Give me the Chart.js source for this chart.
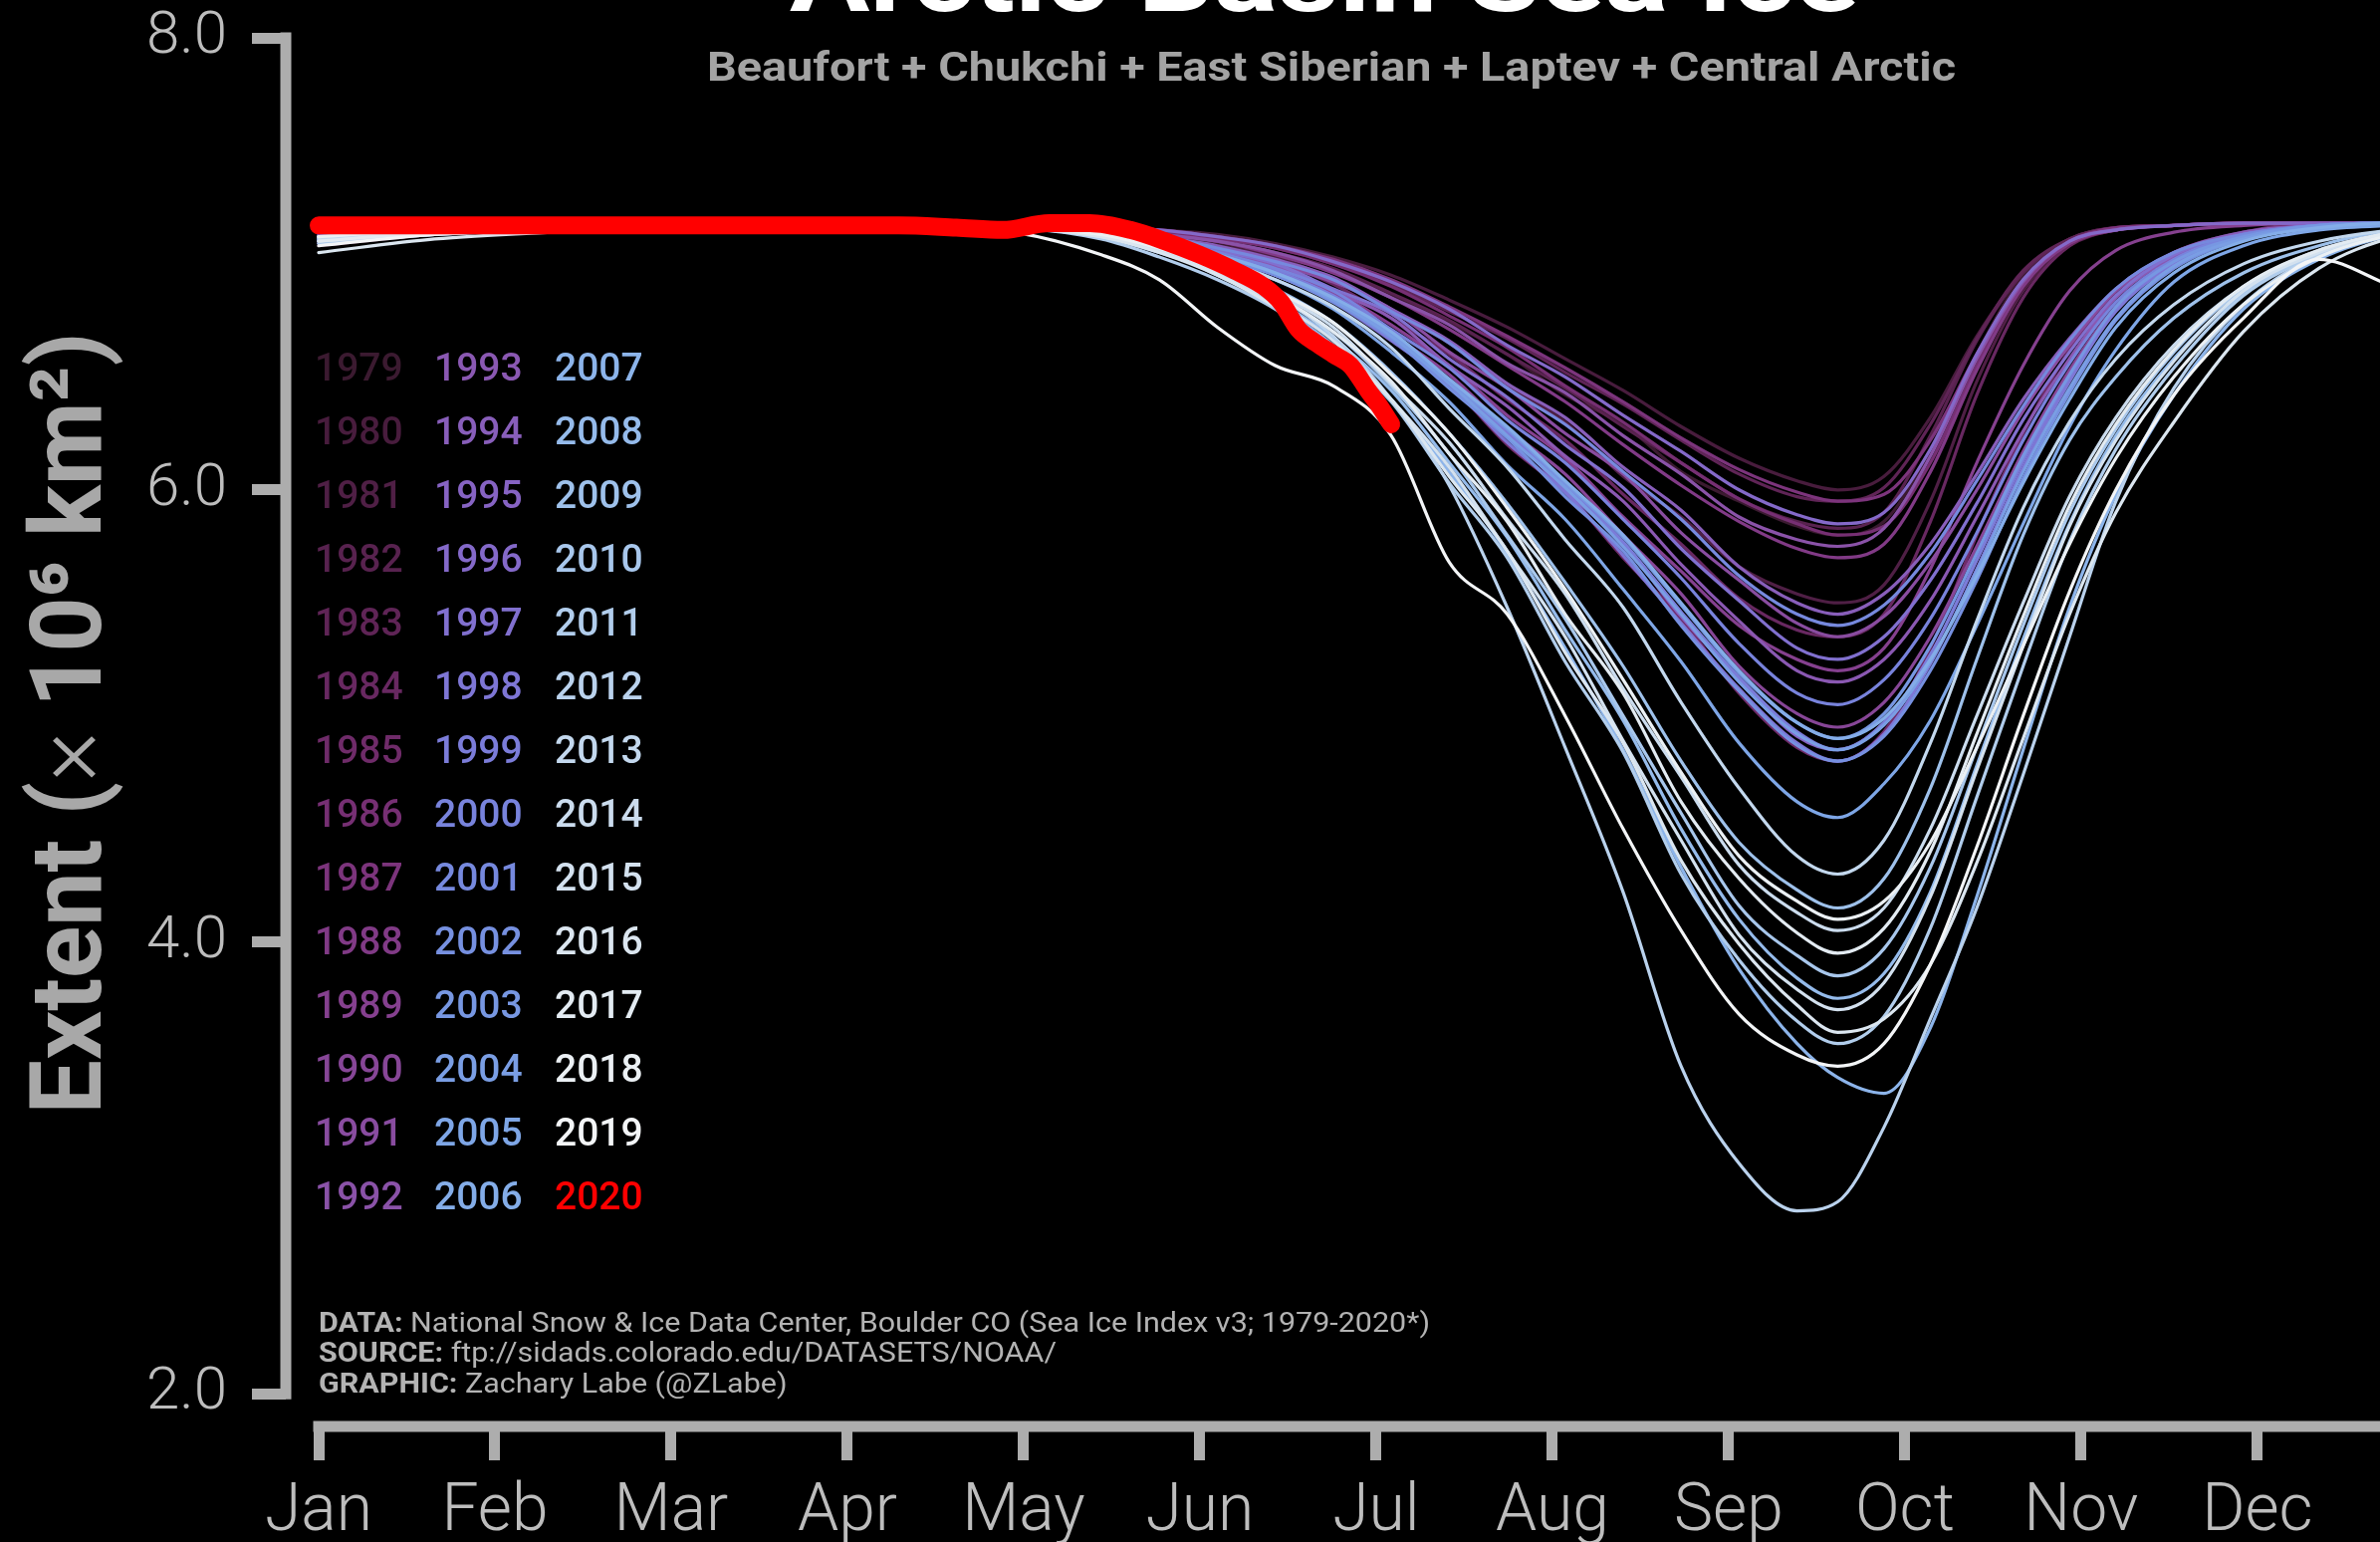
<!DOCTYPE html>
<html>
<head>
<meta charset="utf-8">
<title>Arctic Basin Sea Ice</title>
<script src="https://cdn.jsdelivr.net/npm/chart.js@4.4.1/dist/chart.umd.min.js"></script>
<style>
  html, body { margin: 0; padding: 0; background: #000; overflow: hidden; }
  canvas { display: block; }
</style>
</head>
<body>
<canvas id="chart" width="2390" height="1548"></canvas>
<script>
// Day of year for each sample (shared by the 1979-2019 series)
const DAYS = [0,20,40,60,80,100,120,135,145,155,165,175,185,195,205,215,225,235,245,255,262,270,278,286,294,302,310,320,332,345,358,365];

// Arctic Basin extent, million km^2
const y1979 = [7.10,7.14,7.16,7.17,7.17,7.17,7.16, 7.15,7.13,7.09,7.05,6.97,6.86,6.74,6.60,6.42,6.29,6.08,5.95,5.84,5.80,5.86,6.18,6.60,6.95,7.10,7.15,7.17,7.18,7.18,7.18,7.18];
const y1980 = [7.08,7.13,7.15,7.16,7.17,7.17,7.17, 7.16,7.15,7.13,7.09,7.03,6.95,6.84,6.72,6.58,6.44,6.28,6.14,6.04,6.00,6.06,6.32,6.68,6.96,7.11,7.16,7.17,7.18,7.18,7.18,7.18];
const y1981 = [7.12,7.15,7.16,7.17,7.17,7.16,7.16, 7.15,7.12,7.08,7.03,6.93,6.79,6.65,6.46,6.30,6.06,5.88,5.66,5.54,5.50,5.58,5.95,6.48,6.88,7.08,7.15,7.17,7.18,7.18,7.18,7.18];
const y1982 = [7.11,7.15,7.16,7.17,7.17,7.17,7.17, 7.16,7.14,7.10,7.05,6.98,6.87,6.75,6.60,6.45,6.28,6.12,5.96,5.86,5.83,5.90,6.24,6.66,6.96,7.11,7.16,7.17,7.18,7.18,7.18,7.18];
const y1983 = [7.09,7.14,7.16,7.17,7.17,7.17,7.17, 7.16,7.14,7.12,7.07,7.00,6.91,6.79,6.67,6.52,6.38,6.22,6.07,5.97,5.95,6.01,6.29,6.67,6.97,7.11,7.16,7.17,7.18,7.18,7.18,7.18];
const y1984 = [7.13,7.15,7.16,7.17,7.17,7.17,7.16, 7.14,7.11,7.07,7.01,6.91,6.76,6.60,6.40,6.22,5.98,5.76,5.52,5.38,5.35,5.45,5.86,6.42,6.85,7.08,7.15,7.17,7.18,7.18,7.18,7.18];
const y1985 = [7.10,7.14,7.16,7.17,7.17,7.17,7.16, 7.14,7.10,7.04,6.96,6.85,6.68,6.47,6.20,5.99,5.70,5.43,5.10,4.86,4.80,4.93,5.30,5.80,6.25,6.62,6.88,7.05,7.14,7.18,7.18,7.18];
const y1986 = [7.12,7.15,7.16,7.17,7.17,7.17,7.17, 7.16,7.14,7.11,7.07,7.00,6.90,6.77,6.63,6.46,6.30,6.12,5.96,5.85,5.80,5.84,6.12,6.55,6.92,7.09,7.15,7.17,7.18,7.18,7.18,7.18];
const y1987 = [7.10,7.14,7.16,7.17,7.17,7.17,7.17, 7.16,7.15,7.12,7.08,7.02,6.93,6.81,6.68,6.54,6.39,6.23,6.09,5.99,5.95,5.98,6.22,6.60,6.93,7.10,7.16,7.17,7.18,7.18,7.18,7.18];
const y1988 = [7.11,7.15,7.16,7.17,7.17,7.17,7.16, 7.15,7.13,7.10,7.04,6.96,6.85,6.71,6.55,6.39,6.20,6.02,5.86,5.74,5.70,5.76,6.08,6.53,6.90,7.09,7.15,7.17,7.18,7.18,7.18,7.18];
const y1989 = [7.09,7.14,7.16,7.17,7.17,7.16,7.16, 7.14,7.11,7.06,6.99,6.88,6.73,6.55,6.33,6.14,5.88,5.64,5.40,5.25,5.20,5.30,5.65,6.12,6.55,6.88,7.06,7.14,7.17,7.18,7.18,7.18];
const y1990 = [7.11,7.15,7.16,7.17,7.17,7.17,7.16, 7.14,7.10,7.05,6.97,6.87,6.69,6.51,6.27,6.07,5.80,5.54,5.22,5.01,4.95,5.06,5.35,5.75,6.17,6.53,6.81,7.01,7.13,7.17,7.18,7.18];
const y1991 = [7.12,7.15,7.16,7.17,7.17,7.17,7.17, 7.15,7.12,7.07,7.00,6.92,6.80,6.61,6.45,6.25,6.07,5.81,5.60,5.41,5.35,5.44,5.68,6.00,6.35,6.64,6.88,7.04,7.13,7.17,7.18,7.18];
const y1992 = [7.10,7.14,7.16,7.17,7.17,7.17,7.17, 7.15,7.13,7.10,7.05,6.97,6.85,6.73,6.56,6.43,6.24,6.07,5.88,5.78,5.75,5.83,6.15,6.58,6.92,7.10,7.15,7.17,7.18,7.18,7.18,7.18];
const y1993 = [7.11,7.15,7.16,7.17,7.17,7.17,7.16, 7.14,7.11,7.06,6.99,6.88,6.76,6.55,6.37,6.15,5.95,5.67,5.42,5.20,5.15,5.25,5.51,5.88,6.26,6.58,6.85,7.03,7.13,7.17,7.18,7.18];
const y1994 = [7.12,7.15,7.16,7.17,7.17,7.17,7.17, 7.15,7.12,7.08,7.02,6.94,6.80,6.66,6.47,6.32,6.10,5.91,5.66,5.50,5.45,5.54,5.76,6.07,6.40,6.67,6.89,7.05,7.14,7.17,7.18,7.18];
const y1995 = [7.10,7.14,7.16,7.17,7.17,7.17,7.16, 7.14,7.10,7.04,6.95,6.84,6.69,6.46,6.25,6.00,5.76,5.44,5.16,4.91,4.85,4.97,5.27,5.69,6.13,6.50,6.80,7.01,7.12,7.17,7.18,7.18];
const y1996 = [7.13,7.16,7.16,7.17,7.17,7.17,7.17, 7.16,7.15,7.12,7.08,7.01,6.92,6.80,6.64,6.50,6.33,6.17,6.00,5.89,5.85,5.90,6.18,6.60,6.93,7.10,7.15,7.17,7.18,7.18,7.18,7.18];
const y1997 = [7.11,7.15,7.16,7.17,7.17,7.17,7.17, 7.15,7.11,7.06,7.00,6.89,6.78,6.58,6.41,6.20,6.01,5.74,5.51,5.30,5.25,5.35,5.60,5.94,6.31,6.61,6.86,7.04,7.13,7.17,7.18,7.18];
const y1998 = [7.12,7.15,7.16,7.17,7.17,7.16,7.16, 7.13,7.09,7.02,6.95,6.83,6.66,6.47,6.21,5.99,5.71,5.41,5.12,4.88,4.80,4.92,5.23,5.65,6.10,6.48,6.79,7.00,7.12,7.17,7.18,7.18];
const y1999 = [7.11,7.15,7.16,7.17,7.17,7.17,7.16, 7.14,7.11,7.05,6.97,6.86,6.70,6.48,6.26,6.02,5.77,5.46,5.17,4.93,4.85,4.97,5.27,5.69,6.13,6.50,6.80,7.01,7.12,7.17,7.18,7.18];
const y2000 = [7.12,7.15,7.16,7.17,7.17,7.17,7.16, 7.14,7.11,7.05,6.98,6.88,6.71,6.54,6.31,6.12,5.87,5.61,5.32,5.10,5.05,5.16,5.43,5.81,6.22,6.56,6.83,7.02,7.13,7.17,7.18,7.18];
const y2001 = [7.10,7.14,7.16,7.17,7.17,7.17,7.17, 7.15,7.12,7.07,7.01,6.93,6.79,6.65,6.45,6.29,6.08,5.87,5.62,5.45,5.40,5.49,5.72,6.04,6.37,6.66,6.89,7.05,7.13,7.17,7.18,7.18];
const y2002 = [7.11,7.15,7.16,7.17,7.17,7.17,7.16, 7.13,7.09,7.03,6.95,6.83,6.67,6.45,6.23,5.97,5.73,5.40,5.11,4.87,4.80,4.91,5.20,5.60,6.05,6.43,6.75,6.98,7.11,7.16,7.18,7.18];
const y2003 = [7.12,7.15,7.16,7.17,7.17,7.17,7.16, 7.14,7.10,7.04,6.96,6.85,6.69,6.48,6.27,6.03,5.79,5.49,5.19,4.97,4.90,5.01,5.31,5.72,6.15,6.51,6.81,7.01,7.12,7.17,7.18,7.18];
const y2004 = [7.11,7.14,7.16,7.17,7.17,7.17,7.16, 7.14,7.10,7.04,6.96,6.84,6.68,6.47,6.24,6.01,5.75,5.45,5.15,4.92,4.85,4.96,5.24,5.64,6.08,6.45,6.76,6.99,7.11,7.16,7.18,7.18];
const y2005 = [7.10,7.14,7.16,7.17,7.17,7.17,7.16, 7.14,7.09,7.02,6.93,6.80,6.61,6.39,6.11,5.87,5.56,5.24,4.88,4.62,4.55,4.70,4.98,5.40,5.85,6.28,6.62,6.92,7.08,7.15,7.17,7.18];
const y2006 = [7.12,7.15,7.16,7.17,7.17,7.17,7.16, 7.14,7.10,7.04,6.96,6.85,6.70,6.49,6.28,6.04,5.80,5.50,5.20,4.97,4.90,4.99,5.25,5.62,6.03,6.40,6.72,6.96,7.10,7.16,7.18,7.18];
const y2007 = [7.09,7.13,7.15,7.16,7.17,7.17,7.16, 7.13,7.06,6.95,6.82,6.64,6.40,6.08,5.72,5.30,4.85,4.33,3.88,3.55,3.40,3.33,3.62,4.20,4.85,5.48,5.98,6.42,6.80,7.02,7.13,7.16];
const y2008 = [7.11,7.14,7.16,7.17,7.17,7.17,7.16, 7.12,7.05,6.96,6.84,6.67,6.44,6.12,5.79,5.38,4.98,4.50,4.10,3.84,3.75,3.86,4.22,4.78,5.34,5.85,6.24,6.58,6.87,7.05,7.14,7.16];
const y2009 = [7.10,7.14,7.16,7.17,7.17,7.17,7.16, 7.14,7.08,7.00,6.89,6.74,6.52,6.25,5.94,5.59,5.22,4.80,4.44,4.23,4.15,4.28,4.68,5.25,5.80,6.22,6.50,6.76,6.96,7.08,7.15,7.16];
const y2010 = [7.12,7.15,7.16,7.17,7.17,7.17,7.16, 7.13,7.07,6.98,6.86,6.70,6.46,6.16,5.80,5.43,5.00,4.57,4.16,3.94,3.85,3.97,4.33,4.86,5.40,5.90,6.27,6.61,6.89,7.05,7.14,7.16];
const y2011 = [7.09,7.13,7.15,7.16,7.17,7.17,7.16, 7.11,7.03,6.93,6.80,6.62,6.39,6.03,5.70,5.24,4.84,4.30,3.92,3.65,3.55,3.67,4.06,4.64,5.22,5.77,6.18,6.54,6.86,7.04,7.14,7.16];
const y2012 = [7.12,7.15,7.16,7.17,7.17,7.17,7.16, 7.13,7.07,6.97,6.86,6.68,6.40,6.02,5.48,4.86,4.22,3.45,3.02,2.81,2.85,3.18,3.66,4.15,4.74,5.35,5.95,6.45,6.82,7.04,7.14,7.16];
const y2013 = [7.11,7.14,7.16,7.17,7.17,7.17,7.16, 7.14,7.09,7.02,6.93,6.81,6.63,6.36,6.10,5.78,5.48,5.06,4.68,4.38,4.30,4.45,4.88,5.42,5.92,6.30,6.58,6.82,7.00,7.10,7.15,7.16];
const y2014 = [7.12,7.15,7.16,7.17,7.17,7.17,7.16, 7.13,7.07,6.98,6.87,6.72,6.47,6.21,5.87,5.54,5.12,4.73,4.34,4.13,4.05,4.15,4.50,5.00,5.50,5.97,6.32,6.64,6.90,7.06,7.14,7.16];
const y2015 = [7.10,7.14,7.16,7.17,7.17,7.17,7.16, 7.12,7.06,6.96,6.83,6.66,6.40,6.10,5.73,5.35,4.89,4.45,4.03,3.79,3.70,3.82,4.20,4.76,5.31,5.84,6.22,6.57,6.88,7.05,7.14,7.16];
const y2016 = [7.05,7.11,7.14,7.16,7.17,7.17,7.16, 7.12,7.05,6.95,6.81,6.63,6.40,6.06,5.73,5.28,4.88,4.36,3.99,3.72,3.60,3.66,3.90,4.35,4.90,5.45,5.90,6.30,6.70,6.98,7.12,7.15];
const y2017 = [7.10,7.14,7.16,7.17,7.17,7.17,7.16, 7.13,7.07,6.97,6.86,6.70,6.48,6.16,5.86,5.45,5.10,4.62,4.28,4.04,3.95,4.06,4.40,4.92,5.44,5.93,6.29,6.62,6.90,7.06,7.14,7.16];
const y2018 = [7.12,7.15,7.16,7.17,7.17,7.17,7.16, 7.13,7.07,6.99,6.88,6.74,6.51,6.25,5.92,5.56,5.16,4.75,4.38,4.18,4.10,4.18,4.44,4.86,5.31,5.76,6.14,6.50,6.82,7.03,7.13,7.16];
const y2019 = [7.08,7.13,7.15,7.16,7.17,7.17,7.14, 7.04,6.93,6.72,6.55,6.46,6.24,5.68,5.45,5.00,4.50,4.05,3.68,3.50,3.45,3.55,3.90,4.42,5.00,5.55,6.00,6.42,6.76,7.02,6.90,6.86];

// 2020 runs only to early July
const DAYS_2020 = [0,20,40,60,80,100,110,118,126,133,140,146,152,158,163,166,169,172,175,178,181,183,185];
const y2020 = [7.17,7.17,7.17,7.17,7.17,7.17,7.16,7.15,7.18,7.18,7.15,7.10,7.04,6.97,6.90,6.83,6.71,6.65,6.60,6.55,6.44,6.37,6.29];

const YEARS = [1979,1980,1981,1982,1983,1984,1985,1986,1987,1988,1989,1990,1991,1992,1993,1994,1995,1996,1997,1998,1999,2000,2001,2002,2003,2004,2005,2006,2007,2008,2009,2010,2011,2012,2013,2014,2015,2016,2017,2018,2019,2020];
const SERIES = [y1979,y1980,y1981,y1982,y1983,y1984,y1985,y1986,y1987,y1988,y1989,y1990,y1991,y1992,y1993,y1994,y1995,y1996,y1997,y1998,y1999,y2000,y2001,y2002,y2003,y2004,y2005,y2006,y2007,y2008,y2009,y2010,y2011,y2012,y2013,y2014,y2015,y2016,y2017,y2018,y2019,y2020];
const COLORS = ['#3b1a30','#481c3d','#4f1f45','#58224f','#5f2456','#682861','#6f2b69','#762f73','#7c347c','#813a86','#85408f','#874697','#894ca0','#8a52a8',
                '#8a58b2','#885eba','#8663c3','#8469c9','#8170cf','#7e76d5','#7b7cd9','#7883dc','#7689de','#7690e0','#7797e2','#7a9ee4','#7ea6e6','#84ade8',
                '#8cb4ea','#95bbeb','#9ec1eb','#a8c7ec','#b1cdec','#bad2ed','#c3d8ee','#cbdcee','#d3e1ef','#dbe6f0','#e3ebf2','#ebf0f4','#f3f5f7','#ff0000'];

const MONTHS = ['Jan','Feb','Mar','Apr','May','Jun','Jul','Aug','Sep','Oct','Nov','Dec'];
const MONTH_TICKS = [0,30.4,60.8,91.2,121.6,152.0,182.4,212.8,243.2,273.6,304.0,334.4];
const EXTENT_TICKS = [2,4,6,8];

const TITLE = 'Arctic Basin Sea Ice';
const SUBTITLE = 'Beaufort + Chukchi + East Siberian + Laptev + Central Arctic';
const CREDITS = [
  ['DATA:', 'National Snow & Ice Data Center, Boulder CO (Sea Ice Index v3; 1979-2020*)'],
  ['SOURCE:', 'ftp://sidads.colorado.edu/DATASETS/NOAA/'],
  ['GRAPHIC:', 'Zachary Labe (@ZLabe)']
];

const SPINE = '#adadad';
const TICK_TEXT = '#bdbdbd';
const LABEL_GREY = '#a8a8a8';

const datasets = YEARS.map((yr, i) => {
  const days = yr === 2020 ? DAYS_2020 : DAYS;
  return {
    label: String(yr),
    data: SERIES[i].map((v, k) => ({ x: days[k], y: v })),
    borderColor: COLORS[i],
    borderWidth: yr === 2020 ? 18 : 3.2,
    order: 2020 - yr,
    fill: false
  };
});

// Draws a run of differently styled pieces, stretched horizontally to a given width.
// align: 'left' starts at x, 'center' centres on x.
function drawFitted(ctx, parts, x, y, width, align) {
  let total = 0;
  const widths = parts.map(p => { ctx.font = p.font; const w = ctx.measureText(p.text).width; total += w; return w; });
  const s = width / total;
  ctx.save();
  ctx.translate(x, y);
  ctx.scale(s, 1);
  let cx = align === 'center' ? -total / 2 : 0;
  ctx.textAlign = 'left';
  parts.forEach((p, i) => { ctx.font = p.font; ctx.fillText(p.text, cx, 0); cx += widths[i]; });
  ctx.restore();
  return s;
}

const decor = {
  id: 'decor',
  beforeDraw(chart) {
    const { ctx, width, height } = chart;
    ctx.save();
    ctx.fillStyle = '#000';
    ctx.fillRect(0, 0, width, height);
    ctx.restore();
  },
  beforeDatasetsDraw(chart) {
    const { ctx, chartArea, scales } = chart;
    const half = 5.5;
    ctx.save();
    ctx.strokeStyle = SPINE;
    ctx.lineWidth = 11;
    ctx.lineCap = 'butt';
    ctx.beginPath();
    ctx.moveTo(chartArea.left, scales.y.getPixelForValue(EXTENT_TICKS[EXTENT_TICKS.length - 1]) - half);
    ctx.lineTo(chartArea.left, scales.y.getPixelForValue(EXTENT_TICKS[0]) + half);
    ctx.moveTo(scales.x.getPixelForValue(MONTH_TICKS[0]) - half, chartArea.bottom);
    ctx.lineTo(chartArea.right, chartArea.bottom);
    ctx.stroke();
    ctx.restore();
  },
  afterDraw(chart) {
    const { ctx, chartArea } = chart;
    ctx.save();
    ctx.textBaseline = 'alphabetic';

    // title (runs off the top edge) and subtitle
    ctx.fillStyle = '#ffffff';
    drawFitted(ctx, [{ text: TITLE, font: 'bold 100px Roboto' }], 1330, 11, 1074, 'center');
    ctx.fillStyle = '#a3a3a3';
    drawFitted(ctx, [{ text: SUBTITLE, font: 'bold 40px Roboto' }], 1337, 81, 1254, 'center');

    // axis title, reading upwards
    ctx.save();
    ctx.translate(101, 726);
    ctx.rotate(-Math.PI / 2);
    ctx.fillStyle = LABEL_GREY;
    drawFitted(ctx, [
      { text: 'Extent (', font: 'bold 100px Roboto' },
      { text: '\u00d7', font: '300 100px Roboto' },
      { text: ' 10\u2076 km\u00b2)', font: 'bold 100px Roboto' }
    ], 0, 0, 785, 'center');
    ctx.restore();

    // year key, three columns of fourteen
    ctx.textAlign = 'left';
    ctx.font = '500 39px Roboto';
    const colX = [chartArea.left + 29, chartArea.left + 149, chartArea.left + 270];
    YEARS.forEach((yr, i) => {
      const col = Math.floor(i / 14), row = i % 14;
      ctx.fillStyle = COLORS[i];
      ctx.fillText(String(yr), colX[col], 368 + row * 64 + 14);
    });

    // credits
    ctx.fillStyle = '#b3b3b3';
    const baseY = [1337, 1367, 1398];
    const lineParts = CREDITS.map(([head, body]) => [
      { text: head + ' ', font: 'bold 27px Roboto' },
      { text: body, font: '27px Roboto' }
    ]);
    const s = drawFitted(ctx, lineParts[0], 320, baseY[0], 1116, 'left');
    for (let i = 1; i < lineParts.length; i++) {
      let w = 0;
      lineParts[i].forEach(p => { ctx.font = p.font; w += ctx.measureText(p.text).width; });
      drawFitted(ctx, lineParts[i], 320, baseY[i], w * s, 'left');
    }
    ctx.restore();
  }
};

const tickGrid = {
  display: true,
  drawOnChartArea: false,
  drawTicks: true,
  tickLength: 34,
  tickWidth: 11,
  lineWidth: 11,
  color: SPINE,
  tickColor: SPINE
};

new Chart(document.getElementById('chart'), {
  type: 'line',
  data: { datasets },
  options: {
    responsive: false,
    animation: false,
    devicePixelRatio: 1,
    layout: { padding: { top: 38, left: 0, right: 0, bottom: 0 } },
    plugins: {
      legend: { display: false },
      tooltip: { enabled: false },
      title: { display: false }
    },
    elements: {
      point: { radius: 0, hoverRadius: 0 },
      line: { cubicInterpolationMode: 'monotone', borderCapStyle: 'round', borderJoinStyle: 'round' }
    },
    scales: {
      x: {
        type: 'linear',
        min: -5.67,
        max: 355.55,
        afterFit(scale) { scale.height = 116; scale.paddingLeft = 0; scale.paddingRight = 0; },
        afterBuildTicks(scale) { scale.ticks = MONTH_TICKS.map(v => ({ value: v })); },
        grid: tickGrid,
        border: { display: false },
        ticks: {
          autoSkip: false,
          maxRotation: 0,
          padding: 14,
          color: TICK_TEXT,
          font: { family: 'Roboto', weight: 300, size: 66 },
          callback: (v, i) => MONTHS[i]
        }
      },
      y: {
        type: 'linear',
        min: 1.856,
        max: 8,
        afterFit(scale) { scale.width = 287; scale.paddingTop = 0; scale.paddingBottom = 0; },
        afterBuildTicks(scale) { scale.ticks = EXTENT_TICKS.map(v => ({ value: v })); },
        grid: tickGrid,
        border: { display: false },
        ticks: {
          padding: 25,
          color: TICK_TEXT,
          font: { family: 'Roboto', weight: 300, size: 60 },
          callback: v => Number(v).toFixed(1)
        },
        title: { display: false }
      }
    }
  },
  plugins: [decor]
});
</script>
</body>
</html>
